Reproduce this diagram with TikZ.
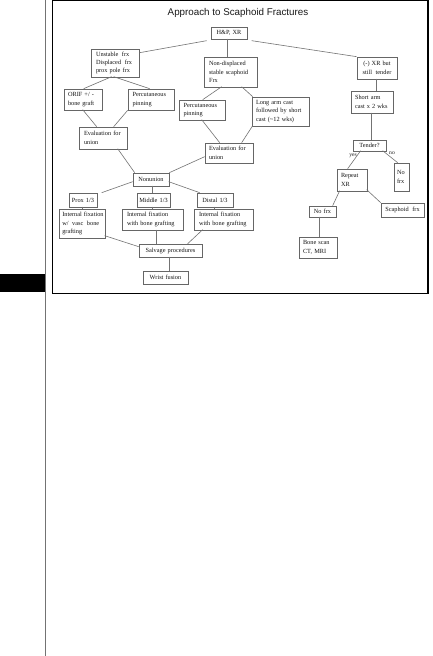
\documentclass[tikz,border=0pt]{standalone}
\usepackage{fontspec}
\setmainfont{Liberation Serif}
\newfontfamily\titlefont{Liberation Sans}
\usetikzlibrary{calc}
\newcommand\flowbox[8]{%
  \pgfmathsetmacro\fbw{#4-#2}%
  \pgfmathsetmacro\fbh{#5-#3}%
  \pgfmathsetmacro\fbt{#4-#2-2*#7}%
  \node[boxst, inner xsep=#7pt, minimum width=\fbw pt, minimum height=\fbh pt, text width=\fbt pt, align=#6] (#1) at ({(#2+#4)/2},{(#3+#5)/2}) {#8};}
\begin{document}
\begin{tikzpicture}[x=1pt,y=-1pt,
  boxst/.style={draw=black!60, line width=0.65pt, inner ysep=0.5pt, font=\fontsize{6.3}{8.4}\selectfont, text=black!92,
    execute at begin node={\hyphenpenalty=10000\exhyphenpenalty=10000}},
  conn/.style={draw=black!55, line width=0.6pt},
  lbl/.style={font=\fontsize{5.6}{6}\selectfont, text=black!90, inner sep=0pt}]
\useasboundingbox (0,0) rectangle (433,656);
\fill[white] (0,0) rectangle (433,656);
\fill[black] (0,274) rectangle (45,292);
\draw[black!55, line width=0.9pt] (45.3,0) -- (45.3,656);
\draw[black, line width=1.3pt] (52.5,0.7) rectangle (428,293.5);
\node[font=\titlefont\fontsize{9.8}{11}\selectfont, text=black!90] (title) at (238,13) {Approach to Scaphoid Fractures};

\flowbox{hp}{211}{27}{247}{39}{center}{1.5}{H\&P,~XR}
\flowbox{uns}{91}{49}{139}{77}{left}{5}{Unstable\kern1.5pt~frx\\Displaced\kern1.5pt~frx\\prox~pole~frx}
\flowbox{nond}{204}{57}{257}{87}{left}{5}{Non-displaced\\stable~scaphoid\\Frx}
\flowbox{negxr}{357}{57}{397}{79}{center}{1.5}{(-)~XR~but\\still\kern1.5pt~tender}
\flowbox{orif}{64}{89}{102}{110}{left}{4}{ORIF~+/~-\\bone~graft}
\flowbox{perc1}{128}{89}{174}{110}{left}{4.5}{Percutaneous\\pinning}
\flowbox{perc2}{179}{100}{225}{120}{left}{4.5}{Percutaneous\\pinning}
\flowbox{longarm}{252}{97}{309}{126}{left}{4}{Long~arm~cast\\followed~by~short\\cast~(\textasciitilde12~wks)}
\flowbox{shortarm}{351}{91}{393}{113}{left}{4}{Short~arm\\cast~x~2~wks}
\flowbox{eval1}{79}{127}{127}{149}{left}{5}{Evaluation~for\\union}
\flowbox{eval2}{205}{143}{253}{163}{left}{4}{Evaluation~for\\union}
\flowbox{tender}{353}{140}{386}{151}{center}{1.5}{Tender?}
\flowbox{nonunion}{133}{173}{169}{186}{center}{1.5}{Nonunion}
\flowbox{prox}{69}{193}{97}{207}{center}{1.5}{Prox~1/3}
\flowbox{middle}{137}{193}{170}{207}{center}{1.5}{Middle~1/3}
\flowbox{distal}{197}{193}{233}{207}{center}{1.5}{Distal~1/3}
\flowbox{intfix1}{59}{209}{105}{238}{left}{3.3}{Internal~fixation\\w/\kern1.5pt~vasc\kern1.5pt~bone\\grafting}
\flowbox{intfix2}{122}{209}{183}{230}{left}{5}{Internal~fixation\\with~bone~grafting}
\flowbox{intfix3}{194}{209}{253}{230}{left}{5}{Internal~fixation\\with~bone~grafting}
\flowbox{salvage}{139}{244}{202}{257}{center}{1.5}{Salvage~procedures}
\flowbox{wrist}{143}{271}{188}{284}{center}{1.5}{Wrist~fusion}
\flowbox{rep}{337}{169}{367}{191}{left}{4}{Repeat\\XR}
\flowbox{nofrxR}{394}{163}{409}{191}{left}{3}{No\\frx}
\flowbox{nofrxM}{309}{206}{336}{217}{center}{1.5}{No~frx}
\flowbox{scaph}{381}{203}{424}{217}{center}{1.5}{Scaphoid\kern1.5pt~frx}
\flowbox{bonescan}{299}{237}{337}{258}{left}{4}{Bone~scan\\CT,~MRI}

\node[lbl] (yes) at (353,156) {yes};
\node[lbl] (no) at (392,153) {no};

\draw[conn] ($(hp.north west)+(-4,14)$) -- ($(uns.north west)+(49,4)$);
\draw[conn] ($(hp.north west)+(17,12)$) -- ($(nond.north west)+(24,0)$);
\draw[conn] ($(hp.north west)+(41,14)$) -- (negxr.north west);
\draw[conn] ($(uns.north west)+(21,28)$) -- ($(orif.north west)+(20,0)$);
\draw[conn] ($(uns.north west)+(23,28)$) -- ($(perc1.north west)+(22,0)$);
\draw[conn] ($(orif.north west)+(19,21)$) -- ($(eval1.north west)+(18,0)$);
\draw[conn] (perc1.south west) -- ($(eval1.north west)+(35,0)$);
\draw[conn] ($(nond.north west)+(18,30)$) -- ($(perc2.north west)+(24,0)$);
\draw[conn] ($(nond.north west)+(38,30)$) -- ($(longarm.north west)+(1,0)$);
\draw[conn] ($(perc2.north west)+(23,20)$) -- ($(eval2.north west)+(15,0)$);
\draw[conn] ($(longarm.north west)+(1,29)$) -- ($(eval2.north west)+(37,0)$);
\draw[conn] ($(eval1.north west)+(39,22)$) -- ($(nonunion.north west)+(2,0)$);
\draw[conn] ($(eval2.north west)+(0,14)$) -- (nonunion.north east);
\draw[conn] ($(nonunion.north west)+(0,9)$) -- ($(prox.north west)+(33,0)$);
\draw[conn] ($(nonunion.north west)+(20,13)$) -- ($(middle.north west)+(16,0)$);
\draw[conn] ($(nonunion.north west)+(36,9)$) -- ($(distal.north west)+(3,0)$);
\draw[conn] ($(prox.north west)+(14,14)$) -- ($(intfix1.north west)+(24,0)$);
\draw[conn] ($(middle.north west)+(16,14)$) -- ($(intfix2.north west)+(31,0)$);
\draw[conn] ($(distal.north west)+(18,14)$) -- ($(intfix3.north west)+(21,0)$);
\draw[conn] ($(intfix1.north west)+(46,27)$) -- ($(salvage.north west)+(0,3)$);
\draw[conn] ($(intfix2.north west)+(35,21)$) -- ($(salvage.north west)+(18,0)$);
\draw[conn] ($(intfix3.north west)+(9,21)$) -- ($(salvage.north west)+(49,0)$);
\draw[conn] ($(salvage.north west)+(31,13)$) -- ($(wrist.north west)+(27,0)$);
\draw[conn] ($(negxr.north west)+(20,22)$) -- ($(shortarm.north west)+(26,0)$);
\draw[conn] ($(shortarm.north west)+(21,22)$) -- ($(tender.north west)+(19,0)$);
\draw[conn] ($(tender.north west)+(8,11)$) -- ($(rep.north west)+(11,0)$);
\draw[conn] ($(tender.north west)+(30,11)$) -- ($(nofrxR.north west)+(4,0)$);
\draw[conn] ($(rep.north west)+(3,22)$) -- ($(nofrxM.north west)+(24,0)$);
\draw[conn] ($(rep.north west)+(30,21)$) -- (scaph.north west);
\draw[conn] ($(nofrxM.north west)+(11,11)$) -- ($(bonescan.north west)+(21,0)$);
\end{tikzpicture}
\end{document}
